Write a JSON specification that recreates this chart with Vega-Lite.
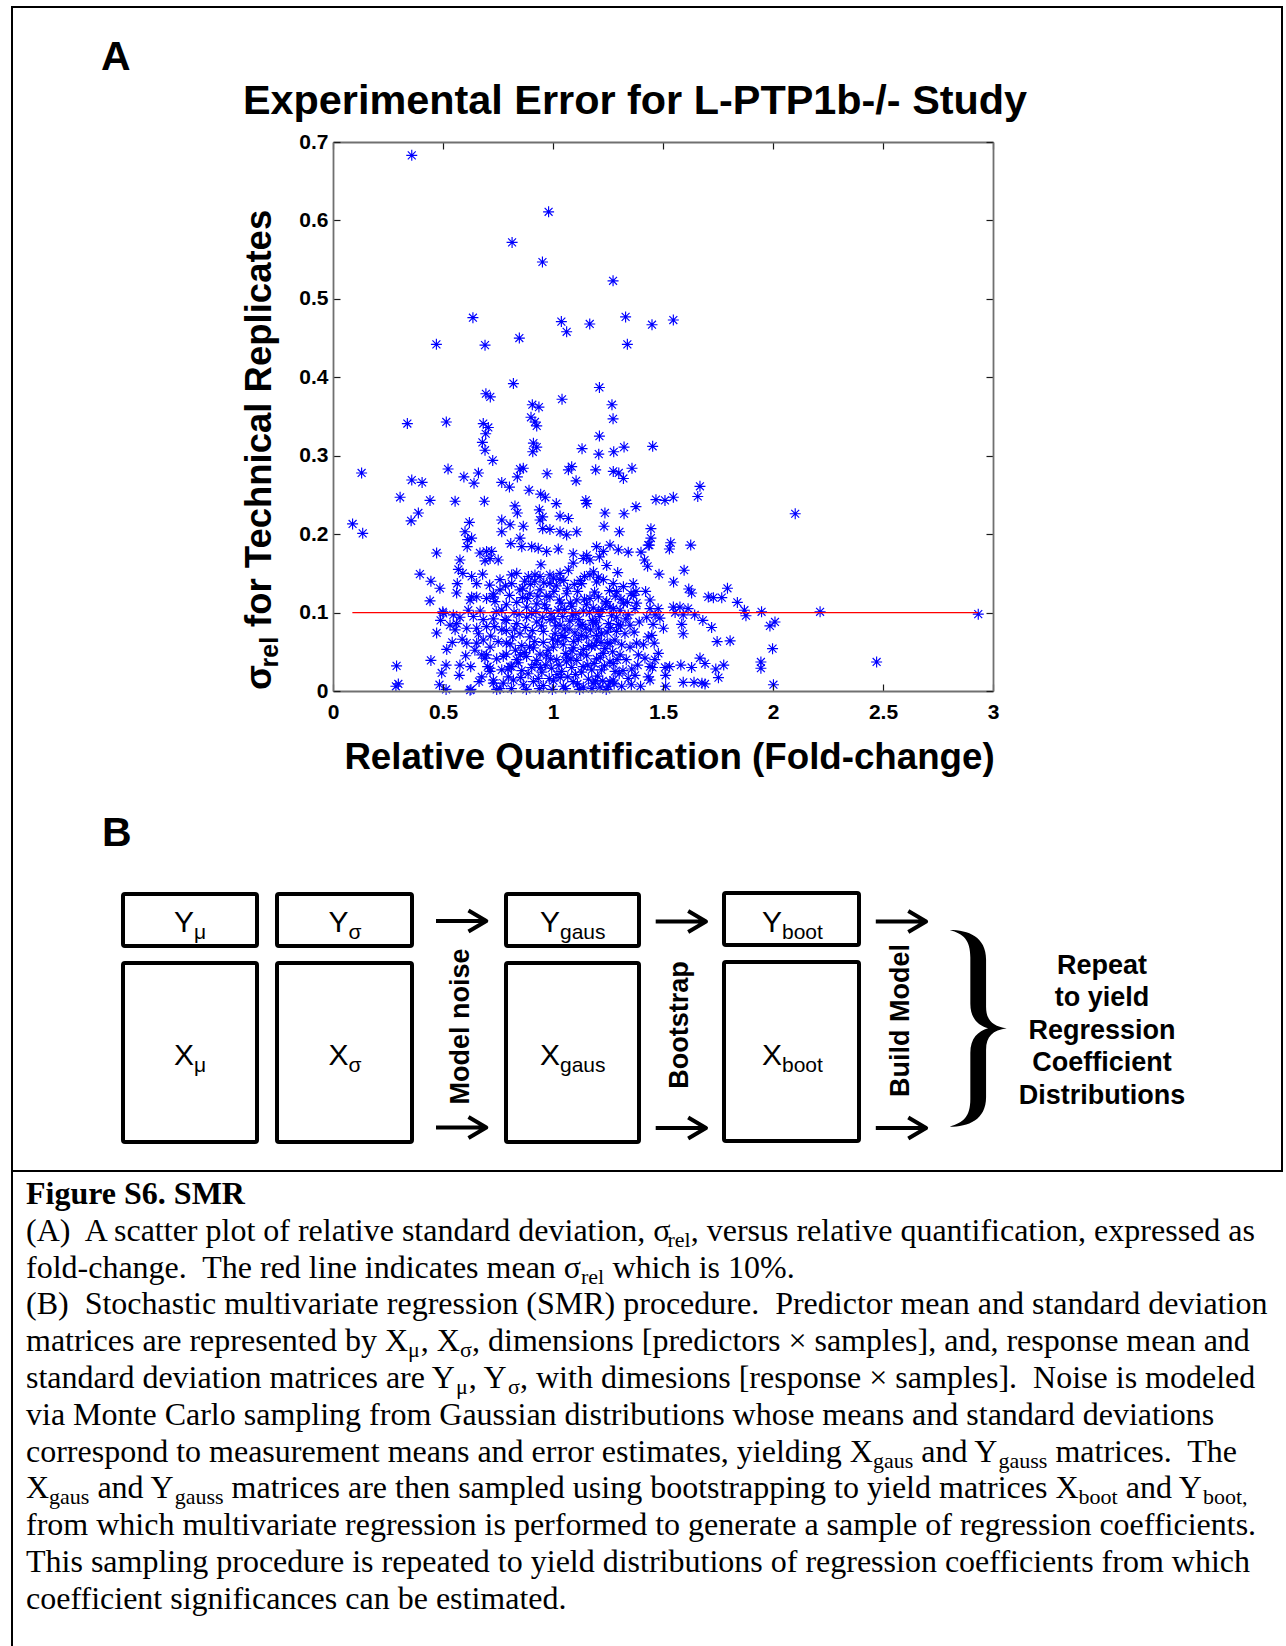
{
  "$schema": "https://vega.github.io/schema/vega-lite/v6.json",
  "width": 1286,
  "height": 1646,
  "autosize": {"type": "none"},
  "padding": 0,
  "background": "white",
  "config": {"view": {"stroke": null}},
  "datasets": {
    "points": [
      {"fc":0.358,"s":0.683},{"fc":0.980,"s":0.611},{"fc":0.814,"s":0.572},{"fc":0.952,"s":0.547},{"fc":1.273,"s":0.523},{"fc":0.636,"s":0.476},{"fc":0.470,"s":0.442},{"fc":0.691,"s":0.441},{"fc":0.847,"s":0.450},{"fc":1.038,"s":0.471},{"fc":1.062,"s":0.458},{"fc":1.167,"s":0.468},{"fc":1.330,"s":0.477},{"fc":1.338,"s":0.442},{"fc":1.450,"s":0.467},{"fc":1.547,"s":0.473},{"fc":0.820,"s":0.392},{"fc":0.695,"s":0.379},{"fc":0.715,"s":0.375},{"fc":0.906,"s":0.365},{"fc":0.936,"s":0.362},{"fc":0.900,"s":0.349},{"fc":0.918,"s":0.343},{"fc":0.926,"s":0.338},{"fc":1.041,"s":0.372},{"fc":1.211,"s":0.387},{"fc":1.268,"s":0.365},{"fc":1.273,"s":0.347},{"fc":0.338,"s":0.341},{"fc":0.515,"s":0.343},{"fc":0.683,"s":0.341},{"fc":0.706,"s":0.336},
      {"fc":0.694,"s":0.328},{"fc":0.679,"s":0.317},{"fc":0.691,"s":0.307},{"fc":0.726,"s":0.294},{"fc":0.911,"s":0.316},{"fc":0.926,"s":0.311},{"fc":0.908,"s":0.305},{"fc":1.132,"s":0.309},{"fc":1.211,"s":0.325},{"fc":1.208,"s":0.302},{"fc":1.276,"s":0.305},{"fc":1.323,"s":0.311},{"fc":1.453,"s":0.312},{"fc":0.130,"s":0.278},{"fc":0.358,"s":0.269},{"fc":0.405,"s":0.266},{"fc":0.305,"s":0.247},{"fc":0.441,"s":0.243},{"fc":0.555,"s":0.242},{"fc":0.523,"s":0.283},{"fc":0.595,"s":0.273},{"fc":0.641,"s":0.265},{"fc":0.661,"s":0.278},{"fc":0.688,"s":0.242},{"fc":0.767,"s":0.266},{"fc":0.802,"s":0.260},{"fc":0.838,"s":0.273},{"fc":0.850,"s":0.283},{"fc":0.865,"s":0.284},{"fc":0.891,"s":0.256},{"fc":0.973,"s":0.277},{"fc":0.944,"s":0.251},{"fc":0.965,"s":0.247},{"fc":1.015,"s":0.239},{"fc":1.070,"s":0.282},{"fc":1.085,"s":0.286},{"fc":1.105,"s":0.268},{"fc":1.149,"s":0.243},{"fc":1.153,"s":0.239},{"fc":1.194,"s":0.282},{"fc":1.274,"s":0.280},{"fc":1.299,"s":0.278},{"fc":1.320,"s":0.271},{"fc":1.359,"s":0.284},{"fc":1.468,"s":0.244},{"fc":1.509,"s":0.243},{"fc":1.547,"s":0.247},{"fc":1.658,"s":0.248},{"fc":1.668,"s":0.261},{"fc":2.101,"s":0.226},{"fc":0.089,"s":0.213},{"fc":0.135,"s":0.201},{"fc":0.355,"s":0.217},{"fc":0.388,"s":0.227},{"fc":0.827,"s":0.236},{"fc":0.838,"s":0.227},{"fc":0.620,"s":0.215},{"fc":0.767,"s":0.218},{"fc":0.767,"s":0.203},{"fc":0.805,"s":0.212},{"fc":0.865,"s":0.210},{"fc":0.938,"s":0.231},{"fc":0.953,"s":0.222},{"fc":0.941,"s":0.218},{"fc":0.953,"s":0.207},{"fc":0.986,"s":0.206},{"fc":1.032,"s":0.203},{"fc":1.062,"s":0.199},{"fc":1.108,"s":0.203},{"fc":1.032,"s":0.223},{"fc":1.070,"s":0.220},{"fc":1.236,"s":0.227},{"fc":1.232,"s":0.210},{"fc":1.302,"s":0.203},{"fc":1.323,"s":0.226},{"fc":1.377,"s":0.235},{"fc":1.445,"s":0.207},{"fc":1.445,"s":0.195},{"fc":1.438,"s":0.186},{"fc":1.535,"s":0.189},{"fc":1.529,"s":0.181},{"fc":1.626,"s":0.186},
      {"fc":0.600,"s":0.203},{"fc":0.612,"s":0.193},{"fc":0.630,"s":0.195},{"fc":0.610,"s":0.184},{"fc":0.808,"s":0.188},{"fc":0.850,"s":0.195},{"fc":0.858,"s":0.184},{"fc":0.903,"s":0.184},{"fc":0.933,"s":0.182},{"fc":0.971,"s":0.178},{"fc":1.024,"s":0.181},{"fc":1.092,"s":0.175},{"fc":1.198,"s":0.184},{"fc":1.229,"s":0.178},{"fc":1.259,"s":0.186},{"fc":1.297,"s":0.180},{"fc":1.342,"s":0.177},{"fc":1.400,"s":0.177},{"fc":1.416,"s":0.167},{"fc":1.433,"s":0.186},{"fc":0.471,"s":0.176},{"fc":0.577,"s":0.167},{"fc":0.668,"s":0.176},{"fc":0.698,"s":0.178},{"fc":0.691,"s":0.166},{"fc":0.714,"s":0.169},{"fc":0.751,"s":0.167},{"fc":0.721,"s":0.178},{"fc":1.430,"s":0.159},{"fc":1.244,"s":0.160},{"fc":1.092,"s":0.163},{"fc":1.138,"s":0.169},{"fc":1.168,"s":0.167},{"fc":1.211,"s":0.171},{"fc":0.945,"s":0.161},{"fc":1.153,"s":0.173},
      {"fc":0.395,"s":0.149},{"fc":0.445,"s":0.140},{"fc":0.486,"s":0.131},{"fc":0.441,"s":0.115},{"fc":0.570,"s":0.155},{"fc":0.590,"s":0.150},{"fc":0.565,"s":0.137},{"fc":0.562,"s":0.125},{"fc":0.630,"s":0.146},{"fc":0.653,"s":0.137},{"fc":0.680,"s":0.149},{"fc":0.759,"s":0.142},{"fc":0.812,"s":0.148},{"fc":0.835,"s":0.150},{"fc":0.888,"s":0.146},{"fc":0.918,"s":0.148},{"fc":0.941,"s":0.146},{"fc":0.986,"s":0.137},{"fc":1.002,"s":0.144},{"fc":1.032,"s":0.150},{"fc":1.070,"s":0.154},{"fc":1.294,"s":0.151},{"fc":1.365,"s":0.137},{"fc":1.377,"s":0.127},{"fc":1.441,"s":0.116},{"fc":1.482,"s":0.149},{"fc":1.596,"s":0.154},{"fc":1.548,"s":0.139},{"fc":1.617,"s":0.130},{"fc":1.630,"s":0.125},{"fc":1.793,"s":0.131},{"fc":1.706,"s":0.120},{"fc":1.729,"s":0.119},{"fc":1.767,"s":0.119},{"fc":1.838,"s":0.113},{"fc":1.870,"s":0.103},{"fc":1.877,"s":0.096},{"fc":1.948,"s":0.101},{"fc":2.214,"s":0.101},{"fc":2.933,"s":0.098},{"fc":1.547,"s":0.107},{"fc":1.577,"s":0.107},{"fc":1.555,"s":0.100},{"fc":1.614,"s":0.105},{"fc":1.478,"s":0.105},{"fc":1.592,"s":0.097},{"fc":1.644,"s":0.097},{"fc":1.486,"s":0.093},{"fc":1.681,"s":0.090},{"fc":1.585,"s":0.085},{"fc":1.721,"s":0.081},{"fc":1.502,"s":0.080},{"fc":1.592,"s":0.073},{"fc":1.986,"s":0.083},{"fc":2.009,"s":0.088},{"fc":1.449,"s":0.071},{"fc":1.460,"s":0.061},{"fc":1.479,"s":0.048},{"fc":1.746,"s":0.063},{"fc":1.805,"s":0.064},{"fc":1.998,"s":0.054},{"fc":1.668,"s":0.042},{"fc":1.691,"s":0.035},{"fc":1.581,"s":0.033},{"fc":1.630,"s":0.030},{"fc":1.530,"s":0.031},{"fc":1.509,"s":0.030},{"fc":1.452,"s":0.030},{"fc":1.740,"s":0.028},{"fc":1.776,"s":0.033},{"fc":1.945,"s":0.037},{"fc":1.945,"s":0.029},{"fc":2.471,"s":0.037},{"fc":1.512,"s":0.020},{"fc":1.752,"s":0.017},{"fc":1.592,"s":0.011},{"fc":1.641,"s":0.011},{"fc":1.677,"s":0.010},{"fc":1.691,"s":0.009},{"fc":2.002,"s":0.008},{"fc":1.512,"s":0.006},{"fc":1.441,"s":0.014},
      {"fc":1.309,"s":0.117},{"fc":1.355,"s":0.124},{"fc":1.441,"s":0.105},{"fc":1.426,"s":0.094},{"fc":1.388,"s":0.046},{"fc":1.418,"s":0.042},{"fc":1.385,"s":0.033},{"fc":1.373,"s":0.020},{"fc":1.342,"s":0.016},{"fc":1.356,"s":0.008},{"fc":1.282,"s":0.025},{"fc":1.274,"s":0.014},{"fc":1.252,"s":0.006},{"fc":1.312,"s":0.006},{"fc":1.214,"s":0.005},{"fc":1.342,"s":0.097},{"fc":1.289,"s":0.094},{"fc":1.350,"s":0.084},{"fc":1.327,"s":0.073},{"fc":1.282,"s":0.065},{"fc":1.350,"s":0.056},{"fc":1.305,"s":0.046},{"fc":1.333,"s":0.040},{"fc":1.259,"s":0.037},{"fc":1.236,"s":0.054},{"fc":1.221,"s":0.073},{"fc":1.252,"s":0.086},{"fc":1.206,"s":0.101},{"fc":1.274,"s":0.105},{"fc":1.320,"s":0.112},{"fc":1.373,"s":0.105},{"fc":1.229,"s":0.142},{"fc":1.274,"s":0.137},{"fc":1.206,"s":0.120},{"fc":1.244,"s":0.114},
      {"fc":1.206,"s":0.145},{"fc":1.289,"s":0.127},{"fc":1.320,"s":0.133},{"fc":1.365,"s":0.122},{"fc":1.380,"s":0.112},{"fc":1.464,"s":0.097},{"fc":1.259,"s":0.107},{"fc":1.305,"s":0.103},{"fc":1.289,"s":0.076},{"fc":1.380,"s":0.061},{"fc":1.433,"s":0.069},{"fc":1.441,"s":0.031},{"fc":1.433,"s":0.018},{"fc":1.259,"s":0.012},{"fc":1.221,"s":0.027},{"fc":1.274,"s":0.035},{"fc":1.229,"s":0.048},{"fc":1.259,"s":0.061},{"fc":1.198,"s":0.065},
      {"fc":0.499,"s":0.101},{"fc":0.489,"s":0.090},{"fc":0.471,"s":0.074},{"fc":0.562,"s":0.086},{"fc":0.555,"s":0.078},{"fc":0.608,"s":0.061},{"fc":0.517,"s":0.053},{"fc":0.445,"s":0.039},{"fc":0.289,"s":0.032},{"fc":0.297,"s":0.009},{"fc":0.286,"s":0.006},{"fc":0.494,"s":0.023},{"fc":0.514,"s":0.033},{"fc":0.577,"s":0.033},{"fc":0.574,"s":0.020},{"fc":0.626,"s":0.031},{"fc":0.484,"s":0.008},{"fc":0.514,"s":0.002},{"fc":0.627,"s":0.002},{"fc":0.653,"s":0.061},{"fc":0.683,"s":0.065},{"fc":0.676,"s":0.046},{"fc":0.691,"s":0.042},{"fc":0.676,"s":0.018},{"fc":0.714,"s":0.025},{"fc":0.729,"s":0.010},{"fc":0.615,"s":0.103},{"fc":0.638,"s":0.095},{"fc":0.653,"s":0.080},{"fc":0.698,"s":0.082},{"fc":0.630,"s":0.120},{"fc":0.653,"s":0.120},{"fc":0.698,"s":0.118},{"fc":0.729,"s":0.120},{"fc":0.736,"s":0.114},{"fc":0.767,"s":0.103},{"fc":0.782,"s":0.091},{"fc":0.767,"s":0.078},{"fc":0.788,"s":0.061},{"fc":0.774,"s":0.044},{"fc":0.805,"s":0.031},{"fc":0.797,"s":0.018},{"fc":0.774,"s":0.010},{"fc":0.759,"s":0.003},
      {"fc":0.986,"s":0.148},{"fc":1.032,"s":0.142},{"fc":1.130,"s":0.137},{"fc":1.168,"s":0.148},{"fc":1.198,"s":0.139},{"fc":0.812,"s":0.137},{"fc":0.759,"s":0.129},{"fc":0.729,"s":0.124},{"fc":0.623,"s":0.116},{"fc":0.850,"s":0.129},{"fc":0.895,"s":0.124},{"fc":0.941,"s":0.129},{"fc":0.986,"s":0.120},{"fc":1.062,"s":0.124},{"fc":1.108,"s":0.116},{"fc":1.168,"s":0.118},
      {"fc":0.788,"s":0.110},{"fc":0.835,"s":0.113},{"fc":0.880,"s":0.107},{"fc":0.926,"s":0.111},{"fc":0.971,"s":0.105},{"fc":1.024,"s":0.103},{"fc":1.085,"s":0.108},{"fc":1.138,"s":0.102},{"fc":1.183,"s":0.106},
      {"fc":0.501,"s":0.099},{"fc":0.547,"s":0.097},{"fc":0.577,"s":0.094},{"fc":0.683,"s":0.091},{"fc":0.729,"s":0.092},{"fc":0.788,"s":0.090},{"fc":0.835,"s":0.086},{"fc":0.880,"s":0.094},{"fc":0.926,"s":0.088},{"fc":0.986,"s":0.091},{"fc":1.032,"s":0.084},{"fc":1.077,"s":0.089},{"fc":1.123,"s":0.083},{"fc":1.183,"s":0.088},
      {"fc":0.608,"s":0.080},{"fc":0.661,"s":0.073},{"fc":0.788,"s":0.077},{"fc":0.850,"s":0.073},{"fc":0.895,"s":0.069},{"fc":0.956,"s":0.076},{"fc":1.009,"s":0.073},{"fc":1.055,"s":0.068},{"fc":1.100,"s":0.074},{"fc":1.153,"s":0.069},{"fc":1.198,"s":0.071},
      {"fc":0.714,"s":0.056},{"fc":0.751,"s":0.063},{"fc":0.805,"s":0.060},{"fc":0.858,"s":0.058},{"fc":0.911,"s":0.055},{"fc":0.956,"s":0.062},{"fc":1.002,"s":0.056},{"fc":1.047,"s":0.059},{"fc":1.092,"s":0.055},{"fc":1.138,"s":0.053},{"fc":1.191,"s":0.058},
      {"fc":0.698,"s":0.046},{"fc":0.744,"s":0.041},{"fc":0.788,"s":0.047},{"fc":0.835,"s":0.040},{"fc":0.880,"s":0.044},{"fc":0.926,"s":0.039},{"fc":0.971,"s":0.045},{"fc":1.017,"s":0.040},{"fc":1.062,"s":0.043},{"fc":1.108,"s":0.039},{"fc":1.153,"s":0.045},{"fc":1.198,"s":0.041},
      {"fc":0.714,"s":0.029},{"fc":0.767,"s":0.027},{"fc":0.812,"s":0.031},{"fc":0.858,"s":0.026},{"fc":0.903,"s":0.030},{"fc":0.949,"s":0.024},{"fc":0.994,"s":0.029},{"fc":1.039,"s":0.025},{"fc":1.085,"s":0.030},{"fc":1.130,"s":0.024},{"fc":1.176,"s":0.027},
      {"fc":0.729,"s":0.014},{"fc":0.820,"s":0.014},{"fc":0.865,"s":0.008},{"fc":0.911,"s":0.012},{"fc":0.956,"s":0.007},{"fc":1.002,"s":0.013},{"fc":1.047,"s":0.006},{"fc":1.092,"s":0.012},{"fc":1.138,"s":0.005},{"fc":1.183,"s":0.010},{"fc":0.623,"s":0.001},{"fc":0.744,"s":0.002},
      {"fc":0.802,"s":0.122},{"fc":0.846,"s":0.098},{"fc":0.861,"s":0.119},{"fc":0.874,"s":0.081},{"fc":0.897,"s":0.136},{"fc":0.903,"s":0.099},{"fc":0.917,"s":0.063},{"fc":0.931,"s":0.121},{"fc":0.948,"s":0.083},{"fc":0.962,"s":0.110},{"fc":0.977,"s":0.052},{"fc":0.991,"s":0.099},{"fc":1.004,"s":0.127},{"fc":1.012,"s":0.083},{"fc":1.021,"s":0.064},{"fc":1.036,"s":0.112},{"fc":1.044,"s":0.095},{"fc":1.058,"s":0.048},{"fc":1.066,"s":0.131},{"fc":1.073,"s":0.079},{"fc":1.088,"s":0.096},{"fc":1.094,"s":0.063},{"fc":1.112,"s":0.127},{"fc":1.117,"s":0.091},{"fc":1.126,"s":0.047},{"fc":1.143,"s":0.117},{"fc":1.149,"s":0.080},{"fc":1.158,"s":0.033},{"fc":1.166,"s":0.100},{"fc":1.175,"s":0.057},{"fc":1.189,"s":0.126},{"fc":1.195,"s":0.087},{"fc":1.212,"s":0.095},{"fc":1.218,"s":0.062},{"fc":1.226,"s":0.013},{"fc":1.238,"s":0.112},{"fc":1.246,"s":0.075},{"fc":1.266,"s":0.096},{"fc":1.271,"s":0.050},{"fc":1.283,"s":0.121},{"fc":1.297,"s":0.085},{"fc":1.301,"s":0.022},{"fc":0.816,"s":0.069},{"fc":0.829,"s":0.052},{"fc":0.842,"s":0.036},{"fc":0.853,"s":0.017},{"fc":0.869,"s":0.049},{"fc":0.887,"s":0.022},{"fc":0.893,"s":0.056},{"fc":0.918,"s":0.034},{"fc":0.933,"s":0.016},{"fc":0.941,"s":0.047},{"fc":0.967,"s":0.033},{"fc":0.983,"s":0.016},{"fc":0.998,"s":0.066},{"fc":1.027,"s":0.033},{"fc":1.033,"s":0.017},{"fc":1.051,"s":0.079},{"fc":1.067,"s":0.018},{"fc":1.081,"s":0.041},{"fc":1.102,"s":0.021},{"fc":1.115,"s":0.066},{"fc":1.133,"s":0.085},{"fc":1.161,"s":0.015},{"fc":1.171,"s":0.078},{"fc":1.187,"s":0.035},{"fc":1.203,"s":0.019},{"fc":1.215,"s":0.043},{"fc":0.811,"s":0.003},{"fc":0.879,"s":0.002},{"fc":0.938,"s":0.003},{"fc":0.997,"s":0.002},{"fc":1.057,"s":0.003},{"fc":1.121,"s":0.002},{"fc":1.177,"s":0.003},{"fc":1.242,"s":0.002},{"fc":0.784,"s":0.134},{"fc":0.823,"s":0.100},{"fc":0.871,"s":0.140},{"fc":0.958,"s":0.138},{"fc":1.049,"s":0.141},{"fc":1.097,"s":0.136},{"fc":1.143,"s":0.146},{"fc":1.184,"s":0.152},{"fc":1.257,"s":0.128},{"fc":0.735,"s":0.082},{"fc":0.742,"s":0.101},{"fc":0.717,"s":0.070},{"fc":0.703,"s":0.031},{"fc":0.664,"s":0.012},{"fc":0.645,"s":0.052},{"fc":0.603,"s":0.045},{"fc":0.587,"s":0.066},{"fc":0.542,"s":0.062},{"fc":0.532,"s":0.084},{"fc":0.712,"s":0.135},{"fc":0.669,"s":0.102},{"fc":1.312,"s":0.059},{"fc":1.331,"s":0.092},{"fc":1.358,"s":0.028},{"fc":1.369,"s":0.075},{"fc":1.392,"s":0.088},{"fc":1.411,"s":0.059},{"fc":1.421,"s":0.127},{"fc":1.455,"s":0.085},{"fc":1.463,"s":0.040},{"fc":1.398,"s":0.006},
      {"fc":0.795,"s":0.028},{"fc":0.826,"s":0.079},{"fc":0.851,"s":0.046},{"fc":0.884,"s":0.118},{"fc":0.906,"s":0.077},{"fc":0.922,"s":0.101},{"fc":0.944,"s":0.030},{"fc":0.953,"s":0.094},{"fc":0.969,"s":0.121},{"fc":0.988,"s":0.041},{"fc":1.006,"s":0.092},{"fc":1.018,"s":0.021},{"fc":1.029,"s":0.116},{"fc":1.041,"s":0.071},{"fc":1.053,"s":0.104},{"fc":1.061,"s":0.037},{"fc":1.079,"s":0.112},{"fc":1.087,"s":0.051},{"fc":1.104,"s":0.099},{"fc":1.111,"s":0.009},{"fc":1.129,"s":0.071},{"fc":1.137,"s":0.031},{"fc":1.152,"s":0.110},{"fc":1.163,"s":0.058},{"fc":1.179,"s":0.090},{"fc":1.193,"s":0.013},{"fc":1.207,"s":0.080},{"fc":1.223,"s":0.104},{"fc":1.234,"s":0.032},{"fc":1.249,"s":0.061},{"fc":1.262,"s":0.081},{"fc":1.278,"s":0.009},{"fc":1.291,"s":0.040},{"fc":1.307,"s":0.083},{"fc":1.318,"s":0.026},{"fc":1.338,"s":0.113},{"fc":0.862,"s":0.131},{"fc":0.917,"s":0.140},{"fc":1.015,"s":0.134},{"fc":1.124,"s":0.141}
    ],
    "meanLine": [{"fc": 0.088, "fcEnd": 2.933, "s": 0.1}],
    "frame": [{"x": 12, "x2": 1282, "y": 7, "y2": 1171}],
    "frameLeft": [{"x": 12, "y": 1171, "y2": 1646}],
    "boxes": [
      {"id": "Y mu", "x": 123, "x2": 257, "y": 894, "y2": 946},
      {"id": "X mu", "x": 123, "x2": 257, "y": 963, "y2": 1142},
      {"id": "Y sigma", "x": 277, "x2": 412, "y": 894, "y2": 946},
      {"id": "X sigma", "x": 277, "x2": 412, "y": 963, "y2": 1142},
      {"id": "Y gaus", "x": 506, "x2": 639, "y": 894, "y2": 946},
      {"id": "X gaus", "x": 506, "x2": 639, "y": 963, "y2": 1142},
      {"id": "Y boot", "x": 724, "x2": 859, "y": 893, "y2": 945},
      {"id": "X boot", "x": 724, "x2": 859, "y": 962, "y2": 1141}
    ],
    "boxLabels": [
      {"x": 194, "y": 932, "main": "Y", "sub": "μ"},
      {"x": 194, "y": 1065, "main": "X", "sub": "μ"},
      {"x": 348.5, "y": 932, "main": "Y", "sub": "σ"},
      {"x": 348.5, "y": 1065, "main": "X", "sub": "σ"},
      {"x": 560, "y": 932, "main": "Y", "sub": "gaus"},
      {"x": 560, "y": 1065, "main": "X", "sub": "gaus"},
      {"x": 782, "y": 932, "main": "Y", "sub": "boot"},
      {"x": 782, "y": 1065, "main": "X", "sub": "boot"}
    ],
    "arrows": [
      {"x": 462.2, "y": 921}, {"x": 462.2, "y": 1127.5},
      {"x": 681.9, "y": 921.5}, {"x": 681.9, "y": 1128},
      {"x": 902, "y": 921.5}, {"x": 902, "y": 1128}
    ],
    "brace": [{"x": 978.2, "y": 1028.3}],
    "stepLabels": [
      {"x": 460.5, "y": 1026.5, "t": "Model noise"},
      {"x": 679.5, "y": 1025, "t": "Bootstrap"},
      {"x": 901, "y": 1020.5, "t": "Build Model"}
    ],
    "repeatText": [
      {"x": 1102, "y": 973.7, "t": "Repeat"},
      {"x": 1102, "y": 1006.2, "t": "to yield"},
      {"x": 1102, "y": 1038.7, "t": "Regression"},
      {"x": 1102, "y": 1071.2, "t": "Coefficient"},
      {"x": 1102, "y": 1103.7, "t": "Distributions"}
    ],
    "panelLetters": [
      {"x": 101, "y": 70, "t": "A"},
      {"x": 102, "y": 846, "t": "B"}
    ],
    "chartTitle": [{"x": 635, "y": 114, "t": "Experimental Error for L-PTP1b-/- Study"}],
    "yTitleMain": [
      {"x": 271, "y": 690, "t": "σ"},
      {"x": 271, "y": 627, "t": "for Technical Replicates"}
    ],
    "yTitleSub": [{"x": 271, "y": 667.5, "t": "rel"}],
    "caption": [
      {"x": 26, "y": 1204, "kind": "head", "t": "Figure S6. SMR"},
      {"x": 26, "y": 1240.8, "kind": "body", "t": "(A)\u00a0 A scatter plot of relative standard deviation, σ"},
      {"x": 667.5, "y": 1240.8, "kind": "sub", "t": "rel"},
      {"x": 690.7, "y": 1240.8, "kind": "body", "t": ", versus relative quantification, expressed as"},
      {"x": 26, "y": 1277.6, "kind": "body", "t": "fold-change.\u00a0 The red line indicates mean σ"},
      {"x": 581, "y": 1277.6, "kind": "sub", "t": "rel"},
      {"x": 612.5, "y": 1277.6, "kind": "body", "t": "which is 10%."},
      {"x": 26, "y": 1314.4, "kind": "body", "t": "(B)\u00a0 Stochastic multivariate regression (SMR) procedure.\u00a0 Predictor mean and standard deviation"},
      {"x": 26, "y": 1351.2, "kind": "body", "t": "matrices are represented by X"},
      {"x": 408.1, "y": 1351.2, "kind": "sub", "t": "μ"},
      {"x": 420.8, "y": 1351.2, "kind": "body", "t": ", X"},
      {"x": 459.9, "y": 1351.2, "kind": "sub", "t": "σ"},
      {"x": 472.0, "y": 1351.2, "kind": "body", "t": ", dimensions [predictors × samples], and, response mean and"},
      {"x": 26, "y": 1388, "kind": "body", "t": "standard deviation matrices are Y"},
      {"x": 456.1, "y": 1388, "kind": "sub", "t": "μ"},
      {"x": 468.8, "y": 1388, "kind": "body", "t": ", Y"},
      {"x": 507.9, "y": 1388, "kind": "sub", "t": "σ"},
      {"x": 520.0, "y": 1388, "kind": "body", "t": ", with dimesions [response × samples].\u00a0 Noise is modeled"},
      {"x": 26, "y": 1424.8, "kind": "body", "t": "via Monte Carlo sampling from Gaussian distributions whose means and standard deviations"},
      {"x": 26, "y": 1461.6, "kind": "body", "t": "correspond to measurement means and error estimates, yielding X"},
      {"x": 872.9, "y": 1461.6, "kind": "sub", "t": "gaus"},
      {"x": 921.2, "y": 1461.6, "kind": "body", "t": "and Y"},
      {"x": 998.5, "y": 1461.6, "kind": "sub", "t": "gauss"},
      {"x": 1055.4, "y": 1461.6, "kind": "body", "t": "matrices.\u00a0 The"},
      {"x": 26, "y": 1498.4, "kind": "body", "t": "X"},
      {"x": 49.1, "y": 1498.4, "kind": "sub", "t": "gaus"},
      {"x": 97.4, "y": 1498.4, "kind": "body", "t": "and Y"},
      {"x": 174.7, "y": 1498.4, "kind": "sub", "t": "gauss"},
      {"x": 231.6, "y": 1498.4, "kind": "body", "t": "matrices are then sampled using bootstrapping to yield matrices X"},
      {"x": 1078.6, "y": 1498.4, "kind": "sub", "t": "boot"},
      {"x": 1125.7, "y": 1498.4, "kind": "body", "t": "and Y"},
      {"x": 1203.0, "y": 1498.4, "kind": "sub", "t": "boot,"},
      {"x": 26, "y": 1535.2, "kind": "body", "t": "from which multivariate regression is performed to generate a sample of regression coefficients."},
      {"x": 26, "y": 1572, "kind": "body", "t": "This sampling procedure is repeated to yield distributions of regression coefficients from which"},
      {"x": 26, "y": 1608.8, "kind": "body", "t": "coefficient significances can be estimated."}
    ]
  },
  "layer": [
    {
      "layer": [
        {
          "data": {"name": "points"},
          "mark": {"type": "point", "shape": "M-1,0L1,0M0,-1L0,1M-0.72,-0.72L0.72,0.72M-0.72,0.72L0.72,-0.72", "filled": false, "color": "#0000ff", "strokeWidth": 1.15, "size": 121, "opacity": 1},
          "encoding": {
            "x": {"field": "fc", "type": "quantitative", "scale": {"domain": [0, 3], "range": [333, 993], "nice": false, "zero": false},
              "axis": {"orient": "bottom", "offset": -955, "values": [0, 0.5, 1, 1.5, 2, 2.5, 3], "format": "~g", "tickSize": -7, "tickColor": "#1a1a1a", "tickWidth": 1.2, "domainColor": "#707070", "domainWidth": 1.8, "labelFont": "Liberation Sans", "labelFontWeight": "bold", "labelFontSize": 21, "labelColor": "#000000", "labelPadding": 17, "labelFlush": false, "labelOverlap": false, "grid": false, "zindex": 1,
                "title": "Relative Quantification (Fold-change)", "titleFont": "Liberation Sans", "titleFontSize": 36.7, "titleFontWeight": "bold", "titleColor": "#000000", "titlePadding": 17, "titleX": 669}},
            "y": {"field": "s", "type": "quantitative", "scale": {"domain": [0, 0.7], "range": [691, 142], "nice": false, "zero": false},
              "axis": {"orient": "left", "offset": -333, "values": [0, 0.1, 0.2, 0.3, 0.4, 0.5, 0.6, 0.7], "format": "~g", "tickSize": -7, "tickColor": "#1a1a1a", "tickWidth": 1.2, "domainColor": "#707070", "domainWidth": 1.8, "labelFont": "Liberation Sans", "labelFontWeight": "bold", "labelFontSize": 21, "labelColor": "#000000", "labelPadding": 12, "labelFlush": false, "labelOverlap": false, "grid": false, "zindex": 1, "title": null}}
          }
        },
        {
          "data": {"name": "meanLine"},
          "mark": {"type": "rule", "color": "#ff0000", "strokeWidth": 1.2},
          "encoding": {
            "x": {"field": "fc", "type": "quantitative",
              "axis": {"orient": "top", "offset": -142, "values": [0, 0.5, 1, 1.5, 2, 2.5, 3], "labels": false, "tickSize": -7, "tickColor": "#1a1a1a", "tickWidth": 1.2, "domainColor": "#707070", "domainWidth": 1.8, "grid": false, "zindex": 1, "title": null}},
            "x2": {"field": "fcEnd"},
            "y": {"field": "s", "type": "quantitative",
              "axis": {"orient": "right", "offset": -293, "values": [0, 0.1, 0.2, 0.3, 0.4, 0.5, 0.6, 0.7], "labels": false, "tickSize": -7, "tickColor": "#1a1a1a", "tickWidth": 1.2, "domainColor": "#707070", "domainWidth": 1.8, "grid": false, "zindex": 1, "title": null}}
          }
        }
      ],
      "resolve": {"axis": {"x": "independent", "y": "independent"}}
    },
    {
      "layer": [
        {
          "data": {"name": "frame"},
          "mark": {"type": "rect", "fill": null, "fillOpacity": 0, "stroke": "#000000", "strokeWidth": 2},
          "encoding": {
            "x": {"field": "x", "type": "quantitative", "scale": {"domain": [0, 1286], "range": [0, 1286], "nice": false, "zero": false}, "axis": null},
            "x2": {"field": "x2"},
            "y": {"field": "y", "type": "quantitative", "scale": {"domain": [0, 1646], "range": [0, 1646], "nice": false, "zero": false}, "axis": null},
            "y2": {"field": "y2"}
          }
        },
        {
          "data": {"name": "frameLeft"},
          "mark": {"type": "rule", "color": "#000000", "strokeWidth": 2},
          "encoding": {
            "x": {"field": "x", "type": "quantitative", "scale": {"domain": [0, 1286], "range": [0, 1286], "nice": false, "zero": false}, "axis": null},
            "y": {"field": "y", "type": "quantitative", "scale": {"domain": [0, 1646], "range": [0, 1646], "nice": false, "zero": false}, "axis": null},
            "y2": {"field": "y2"}
          }
        },
        {
          "data": {"name": "boxes"},
          "mark": {"type": "rect", "fill": "#ffffff", "stroke": "#000000", "strokeWidth": 4, "cornerRadius": 2},
          "encoding": {
            "x": {"field": "x", "type": "quantitative", "scale": {"domain": [0, 1286], "range": [0, 1286], "nice": false, "zero": false}, "axis": null},
            "x2": {"field": "x2"},
            "y": {"field": "y", "type": "quantitative", "scale": {"domain": [0, 1646], "range": [0, 1646], "nice": false, "zero": false}, "axis": null},
            "y2": {"field": "y2"}
          }
        },
        {
          "data": {"name": "arrows"},
          "mark": {"type": "point", "shape": "M-1,0L0.9,0M0.24,-0.4L0.92,0L0.24,0.4", "filled": false, "color": "#000000", "strokeWidth": 4, "strokeCap": "butt", "strokeJoin": "round", "size": 2746, "opacity": 1},
          "encoding": {
            "x": {"field": "x", "type": "quantitative", "scale": {"domain": [0, 1286], "range": [0, 1286], "nice": false, "zero": false}, "axis": null},
            "y": {"field": "y", "type": "quantitative", "scale": {"domain": [0, 1646], "range": [0, 1646], "nice": false, "zero": false}, "axis": null}
          }
        },
        {
          "data": {"name": "brace"},
          "mark": {"type": "point", "shape": "M-0.29,-1C-0.1,-1,0.08,-0.93,0.08,-0.7L0.08,-0.22C0.08,-0.08,0.15,-0.02,0.29,0C0.15,0.02,0.08,0.08,0.08,0.22L0.08,0.7C0.08,0.93,-0.1,1,-0.29,1C-0.15,0.96,-0.08,0.9,-0.08,0.72L-0.08,0.25C-0.08,0.1,0,0.03,0.1,0C0,-0.03,-0.08,-0.1,-0.08,-0.25L-0.08,-0.72C-0.08,-0.9,-0.15,-0.96,-0.29,-1Z", "filled": true, "color": "#000000", "strokeWidth": 0, "size": 38691, "opacity": 1},
          "encoding": {
            "x": {"field": "x", "type": "quantitative", "scale": {"domain": [0, 1286], "range": [0, 1286], "nice": false, "zero": false}, "axis": null},
            "y": {"field": "y", "type": "quantitative", "scale": {"domain": [0, 1646], "range": [0, 1646], "nice": false, "zero": false}, "axis": null}
          }
        },
        {
          "data": {"name": "boxLabels"},
          "mark": {"type": "text", "font": "Liberation Sans", "fontSize": 30, "align": "right", "baseline": "alphabetic", "color": "#000000"},
          "encoding": {
            "x": {"field": "x", "type": "quantitative", "scale": {"domain": [0, 1286], "range": [0, 1286], "nice": false, "zero": false}, "axis": null},
            "y": {"field": "y", "type": "quantitative", "scale": {"domain": [0, 1646], "range": [0, 1646], "nice": false, "zero": false}, "axis": null},
            "text": {"field": "main"}
          }
        },
        {
          "data": {"name": "boxLabels"},
          "mark": {"type": "text", "font": "Liberation Sans", "fontSize": 21, "align": "left", "baseline": "alphabetic", "dy": 7, "color": "#000000"},
          "encoding": {
            "x": {"field": "x", "type": "quantitative", "scale": {"domain": [0, 1286], "range": [0, 1286], "nice": false, "zero": false}, "axis": null},
            "y": {"field": "y", "type": "quantitative", "scale": {"domain": [0, 1646], "range": [0, 1646], "nice": false, "zero": false}, "axis": null},
            "text": {"field": "sub"}
          }
        },
        {
          "data": {"name": "stepLabels"},
          "mark": {"type": "text", "font": "Liberation Sans", "fontSize": 27, "fontWeight": "bold", "angle": 270, "align": "center", "baseline": "middle", "color": "#000000"},
          "encoding": {
            "x": {"field": "x", "type": "quantitative", "scale": {"domain": [0, 1286], "range": [0, 1286], "nice": false, "zero": false}, "axis": null},
            "y": {"field": "y", "type": "quantitative", "scale": {"domain": [0, 1646], "range": [0, 1646], "nice": false, "zero": false}, "axis": null},
            "text": {"field": "t"}
          }
        },
        {
          "data": {"name": "repeatText"},
          "mark": {"type": "text", "font": "Liberation Sans", "fontSize": 27, "fontWeight": "bold", "align": "center", "baseline": "alphabetic", "color": "#000000"},
          "encoding": {
            "x": {"field": "x", "type": "quantitative", "scale": {"domain": [0, 1286], "range": [0, 1286], "nice": false, "zero": false}, "axis": null},
            "y": {"field": "y", "type": "quantitative", "scale": {"domain": [0, 1646], "range": [0, 1646], "nice": false, "zero": false}, "axis": null},
            "text": {"field": "t"}
          }
        },
        {
          "data": {"name": "panelLetters"},
          "mark": {"type": "text", "font": "Liberation Sans", "fontSize": 41, "fontWeight": "bold", "align": "left", "baseline": "alphabetic", "color": "#000000"},
          "encoding": {
            "x": {"field": "x", "type": "quantitative", "scale": {"domain": [0, 1286], "range": [0, 1286], "nice": false, "zero": false}, "axis": null},
            "y": {"field": "y", "type": "quantitative", "scale": {"domain": [0, 1646], "range": [0, 1646], "nice": false, "zero": false}, "axis": null},
            "text": {"field": "t"}
          }
        },
        {
          "data": {"name": "chartTitle"},
          "mark": {"type": "text", "font": "Liberation Sans", "fontSize": 41.4, "fontWeight": "bold", "align": "center", "baseline": "alphabetic", "color": "#000000"},
          "encoding": {
            "x": {"field": "x", "type": "quantitative", "scale": {"domain": [0, 1286], "range": [0, 1286], "nice": false, "zero": false}, "axis": null},
            "y": {"field": "y", "type": "quantitative", "scale": {"domain": [0, 1646], "range": [0, 1646], "nice": false, "zero": false}, "axis": null},
            "text": {"field": "t"}
          }
        },
        {
          "data": {"name": "yTitleMain"},
          "mark": {"type": "text", "font": "Liberation Sans", "fontSize": 36.5, "fontWeight": "bold", "angle": 270, "align": "left", "baseline": "alphabetic", "color": "#000000"},
          "encoding": {
            "x": {"field": "x", "type": "quantitative", "scale": {"domain": [0, 1286], "range": [0, 1286], "nice": false, "zero": false}, "axis": null},
            "y": {"field": "y", "type": "quantitative", "scale": {"domain": [0, 1646], "range": [0, 1646], "nice": false, "zero": false}, "axis": null},
            "text": {"field": "t"}
          }
        },
        {
          "data": {"name": "yTitleSub"},
          "mark": {"type": "text", "font": "Liberation Sans", "fontSize": 25, "fontWeight": "bold", "angle": 270, "align": "left", "baseline": "alphabetic", "dy": 7, "color": "#000000"},
          "encoding": {
            "x": {"field": "x", "type": "quantitative", "scale": {"domain": [0, 1286], "range": [0, 1286], "nice": false, "zero": false}, "axis": null},
            "y": {"field": "y", "type": "quantitative", "scale": {"domain": [0, 1646], "range": [0, 1646], "nice": false, "zero": false}, "axis": null},
            "text": {"field": "t"}
          }
        },
        {
          "data": {"name": "caption"},
          "transform": [{"filter": "datum.kind == 'body'"}],
          "mark": {"type": "text", "font": "Liberation Serif", "fontSize": 32, "align": "left", "baseline": "alphabetic", "color": "#000000"},
          "encoding": {
            "x": {"field": "x", "type": "quantitative", "scale": {"domain": [0, 1286], "range": [0, 1286], "nice": false, "zero": false}, "axis": null},
            "y": {"field": "y", "type": "quantitative", "scale": {"domain": [0, 1646], "range": [0, 1646], "nice": false, "zero": false}, "axis": null},
            "text": {"field": "t"}
          }
        },
        {
          "data": {"name": "caption"},
          "transform": [{"filter": "datum.kind == 'sub'"}],
          "mark": {"type": "text", "font": "Liberation Serif", "fontSize": 22, "align": "left", "baseline": "alphabetic", "dy": 6, "color": "#000000"},
          "encoding": {
            "x": {"field": "x", "type": "quantitative", "scale": {"domain": [0, 1286], "range": [0, 1286], "nice": false, "zero": false}, "axis": null},
            "y": {"field": "y", "type": "quantitative", "scale": {"domain": [0, 1646], "range": [0, 1646], "nice": false, "zero": false}, "axis": null},
            "text": {"field": "t"}
          }
        },
        {
          "data": {"name": "caption"},
          "transform": [{"filter": "datum.kind == 'head'"}],
          "mark": {"type": "text", "font": "Liberation Serif", "fontSize": 32, "fontWeight": "bold", "align": "left", "baseline": "alphabetic", "color": "#000000"},
          "encoding": {
            "x": {"field": "x", "type": "quantitative", "scale": {"domain": [0, 1286], "range": [0, 1286], "nice": false, "zero": false}, "axis": null},
            "y": {"field": "y", "type": "quantitative", "scale": {"domain": [0, 1646], "range": [0, 1646], "nice": false, "zero": false}, "axis": null},
            "text": {"field": "t"}
          }
        }
      ]
    }
  ],
  "resolve": {"scale": {"x": "independent", "y": "independent"}}
}
